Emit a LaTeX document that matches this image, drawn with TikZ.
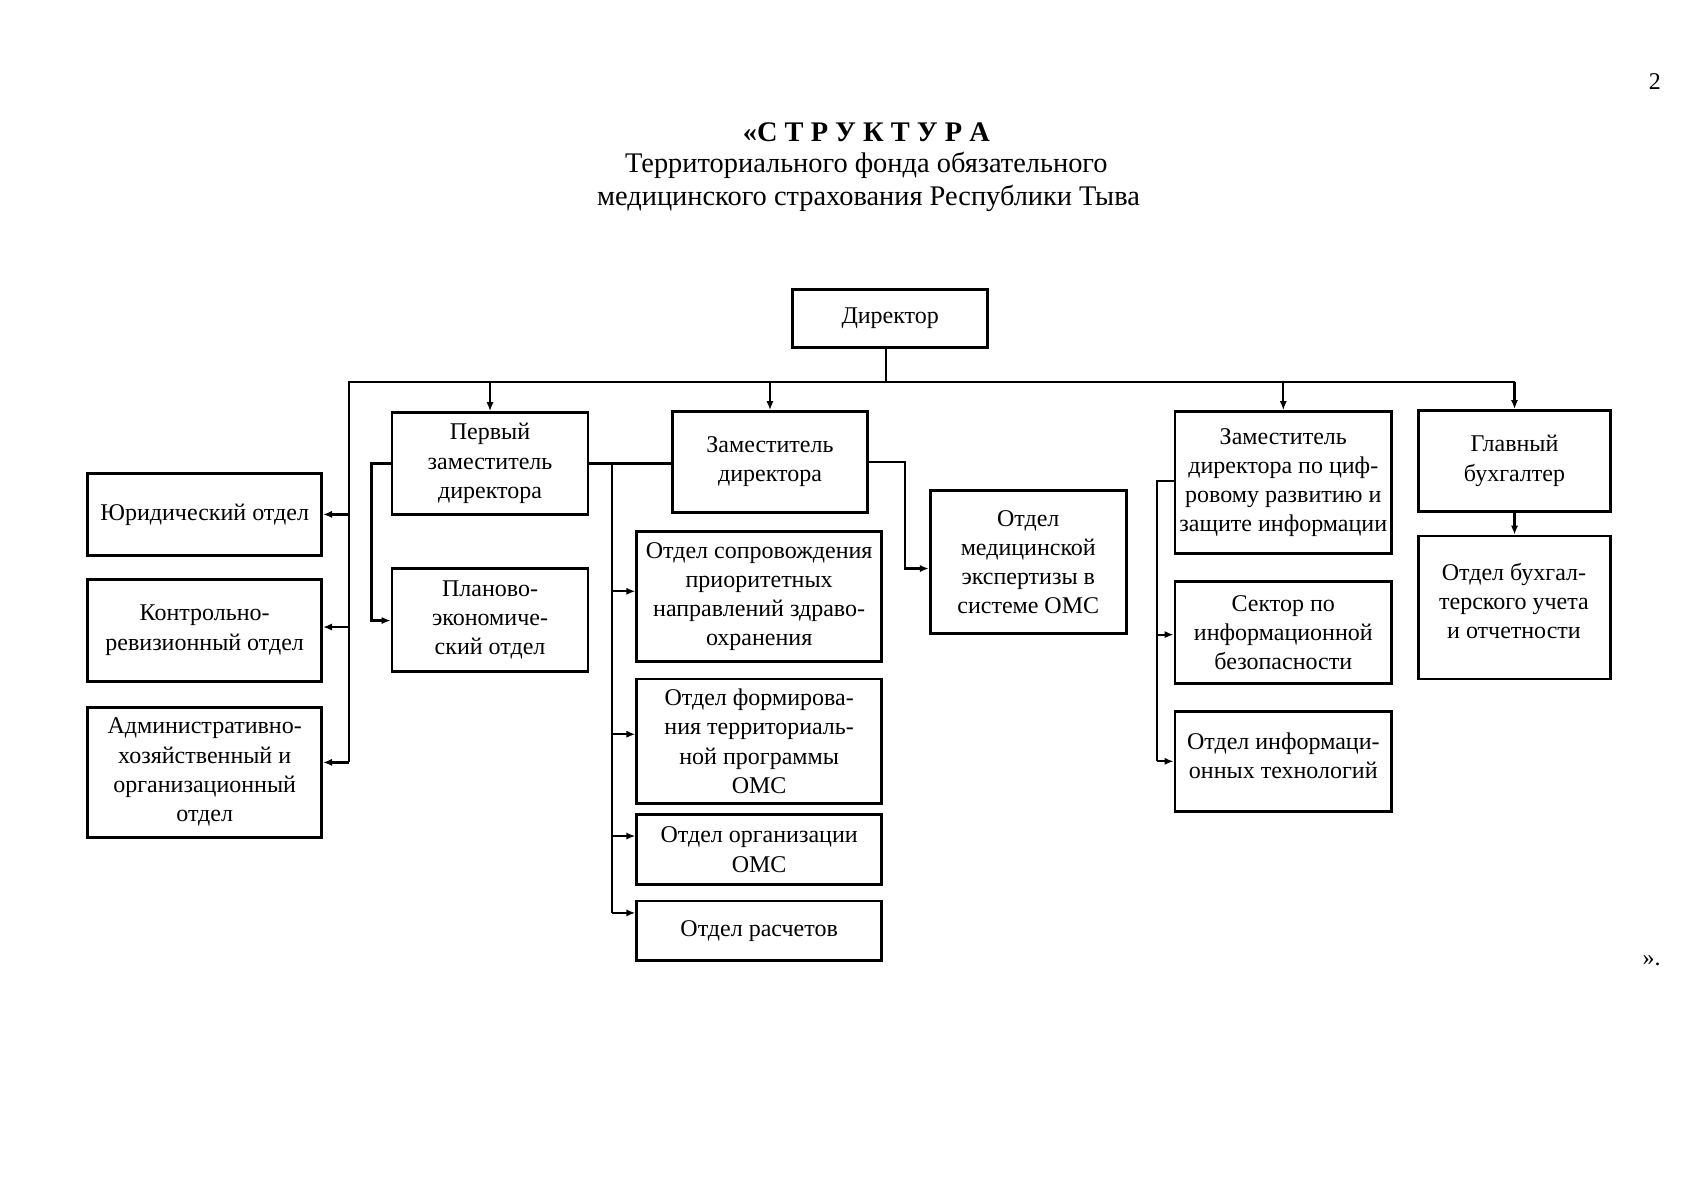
\documentclass[tikz,border=0pt]{standalone}
\usepackage{fontspec}
\setmainfont{Liberation Serif}
\usetikzlibrary{arrows.meta,calc}
\newcommand\mkbox[6]{%
  \pgfmathsetmacro\bw{(#4-#2)*0.5415}%
  \pgfmathsetmacro\bh{(#5-#3)*0.5415}%
  \node[box, minimum width=\bw pt, minimum height=\bh pt] (#1) at ({(#2+#4)/2},{(#3+#5)/2}) {#6};}
\begin{document}
\begin{tikzpicture}[x=0.5415pt, y=-0.5415pt,
  box/.style={draw, line width=1.4pt, align=center, inner sep=0pt, font=\fontsize{12}{14.6}\selectfont},
  txt/.style={align=center, inner sep=0pt, font=\fontsize{12}{14.6}\selectfont},
  ttl/.style={align=center, inner sep=0pt, font=\fontsize{14.2}{16.3}\selectfont},
  ln/.style={line width=1.1pt, line join=miter},
  arr/.style={ln, -{Latex[length=4.5pt,width=3.6pt]}}]
\useasboundingbox (0,0) rectangle (1567,1108);
% title
\node[ttl] (t1) at (800,122) {\textbf{«С Т Р У К Т У Р А}};
\node[ttl] (t2) at (800,153) {Территориального фонда обязательного};
\node[ttl] (t3) at (802,183) {медицинского страхования Республики Тыва};
\node[txt] (pg) at (1528,75) {2};
\node[txt] (end) at (1525,887) {».};
% boxes
\mkbox{dir}{732}{267}{912}{321}{Директор}
\mkbox{jur}{81}{437}{297}{513}{Юридический отдел}
\mkbox{kr}{81}{535}{297}{629}{Контрольно-\\ревизионный отдел}
\mkbox{adm}{81}{653}{297}{773}{Административно-\\хозяйственный и\\организационный\\отдел}
\mkbox{first}{362}{381}{543}{475}{Первый\\заместитель\\директора}
\mkbox{plan}{362}{525}{543}{620}{Планово-\\экономиче-\\ский отдел}
\mkbox{zam}{621}{380}{801}{473}{Заместитель\\директора}
\mkbox{med}{859}{453}{1040}{585}{Отдел\\медицинской\\экспертизы в\\системе ОМС}
\mkbox{sop}{588}{491}{814}{611}{Отдел сопровождения\\приоритетных\\направлений здраво-\\охранения}
\mkbox{form}{588}{627}{814}{742}{Отдел формирова-\\ния территориаль-\\ной программы\\ОМС}
\mkbox{org}{588}{752}{814}{817}{Отдел организации\\ОМС}
\mkbox{ras}{588}{832}{814}{887}{Отдел расчетов}
\mkbox{zd}{1085}{380}{1285}{511}{Заместитель\\директора по циф-\\ровому развитию и\\защите информации}
\mkbox{sec}{1085}{537}{1285}{631}{Сектор по\\информационной\\безопасности}
\mkbox{it}{1085}{657}{1285}{749}{}
\node[txt] (itt) at (1185,698) {Отдел информаци-\\онных технологий};
\mkbox{glav}{1310}{379}{1487}{472}{Главный\\бухгалтер}
\mkbox{buh}{1310}{495}{1487}{627}{}
\node[txt] (buht) at (1398,555) {Отдел бухгал-\\терского учета\\и отчетности};
% bus
\coordinate (bL) at (322,353);
\coordinate (bR) at (glav.north |- bL);
\coordinate (ds) at ([xshift=-2pt]dir.south);
\draw[ln] (ds) -- (ds |- bL);
\draw[ln] (bL |- 0,704) -- (bL) -- (bR);
\draw[arr] (bR) -- (glav.north);
\draw[arr] (first.north |- bL) -- (first.north);
\draw[arr] (zam.north |- bL) -- (zam.north);
\draw[arr] (zd.north |- bL) -- (zd.north);
\draw[arr] (bL |- jur.east) -- (jur.east);
\draw[arr] (bL |- 0,579) -- (kr.east |- 0,579);
\draw[arr] (bL |- 0,704) -- (adm.east |- 0,704);
% first deputy
\coordinate (v0) at (343,0);
\draw[arr] (first.west) -- (v0 |- first.west) -- (v0 |- 0,573) -- (plan.west |- 0,573);
\draw[ln] (first.east) -- (first.east -| zam.west);
\coordinate (v1) at (565,0);
\draw[ln] (v1 |- first.east) -- (v1 |- 0,843);
\draw[arr] (v1 |- 0,546) -- (sop.west |- 0,546);
\draw[arr] (v1 |- 0,678) -- (form.west |- 0,678);
\draw[arr] (v1 |- 0,772) -- (org.west |- 0,772);
\draw[arr] (v1 |- 0,843) -- (ras.west |- 0,843);
% deputy
\coordinate (v2) at (836,0);
\draw[arr] (zam.east) -- (v2 |- zam.east) -- (v2 |- 0,525) -- (med.west |- 0,525);
% digital deputy
\coordinate (v3) at (1068,0);
\draw[ln] (zd.west |- 0,444) -- (v3 |- 0,444) -- (v3 |- 0,703);
\draw[arr] (v3 |- 0,586) -- (sec.west |- 0,586);
\draw[arr] (v3 |- 0,703) -- (it.west |- 0,703);
% chief accountant
\draw[arr] (glav.south) -- (buh.north);
\end{tikzpicture}
\end{document}
